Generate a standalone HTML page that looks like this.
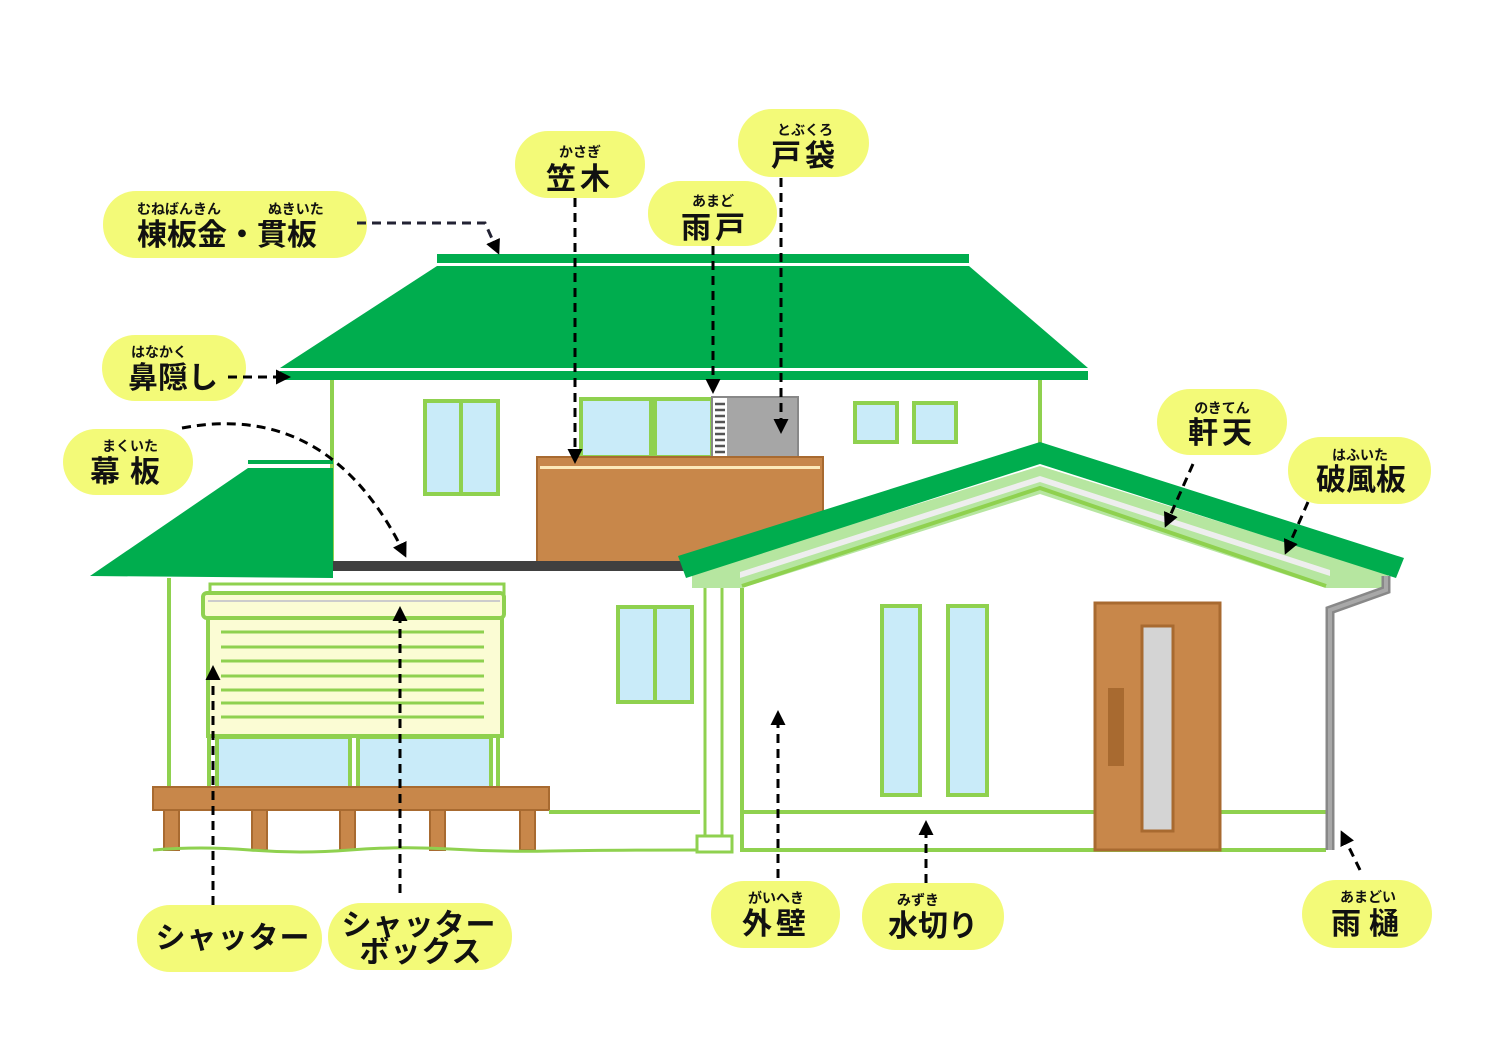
<!DOCTYPE html>
<html><head><meta charset="utf-8"><style>
html,body{margin:0;padding:0;background:#fff}
svg{display:block}
text{font-family:"Liberation Sans","Noto Sans CJK JP",sans-serif;font-weight:bold;fill:#111}
.m{font-size:30px}.r{font-size:14px}
</style></head><body>
<svg width="1497" height="1058" viewBox="0 0 1497 1058" xmlns="http://www.w3.org/2000/svg">
<defs><marker id="a" viewBox="0 0 10 10" refX="8" refY="5" markerWidth="5" markerHeight="5" orient="auto"><path d="M0,0L10,5L0,10z" fill="#000"/></marker></defs>
<rect x="332" y="380" width="708" height="190" fill="#fff"/>
<line x1="332" y1="380" x2="332" y2="566" stroke="#8fd14f" stroke-width="4"/>
<line x1="1040" y1="380" x2="1040" y2="446" stroke="#8fd14f" stroke-width="4"/>
<rect x="437" y="254" width="532" height="9" fill="#00ad4e"/>
<polygon points="437,266 969,266 1088,368 280,368" fill="#00ad4e"/>
<rect x="280" y="371" width="808" height="9" fill="#00ad4e"/>
<g fill="#c9ebf9" stroke="#8fd14f" stroke-width="4">
<rect x="425" y="401" width="36" height="93"/><rect x="461" y="401" width="37" height="93"/>
<rect x="581" y="399" width="70" height="58"/><rect x="655" y="399" width="57" height="58"/>
<rect x="855" y="403" width="42" height="39"/><rect x="914" y="403" width="42" height="39"/>
</g>
<rect x="712" y="397" width="86" height="60" fill="#a6a6a6" stroke="#888" stroke-width="2"/>
<rect x="713" y="398" width="14" height="59" fill="#fff"/>
<g stroke="#555" stroke-width="2.5"><line x1="715" y1="404" x2="725" y2="404"/><line x1="715" y1="410" x2="725" y2="410"/><line x1="715" y1="416" x2="725" y2="416"/><line x1="715" y1="422" x2="725" y2="422"/><line x1="715" y1="428" x2="725" y2="428"/><line x1="715" y1="434" x2="725" y2="434"/><line x1="715" y1="440" x2="725" y2="440"/><line x1="715" y1="446" x2="725" y2="446"/><line x1="715" y1="452" x2="725" y2="452"/></g>
<rect x="537" y="457" width="286" height="106" fill="#c8874a" stroke="#a86a30" stroke-width="2"/>
<rect x="540" y="466" width="280" height="3" fill="#fde9b8"/>
<rect x="333" y="561" width="360" height="10" fill="#404040"/>
<rect x="248" y="460" width="85" height="4" fill="#00ad4e"/>
<polygon points="90,576 248,468 333,468 333,578" fill="#00ad4e"/>
<line x1="169" y1="578" x2="169" y2="790" stroke="#8fd14f" stroke-width="4"/>
<rect x="210" y="584" width="294" height="9" fill="#fff" stroke="#8fd14f" stroke-width="3"/>
<rect x="208" y="618" width="294" height="118" fill="#fbfcd4" stroke="#8fd14f" stroke-width="4"/>
<rect x="203" y="593" width="301" height="25" rx="4" fill="#fbfcd4" stroke="#8fd14f" stroke-width="4"/>
<line x1="208" y1="601" x2="500" y2="601" stroke="#ccc" stroke-width="2"/>
<g stroke="#8fd14f" stroke-width="3"><line x1="221" y1="632" x2="484" y2="632"/><line x1="221" y1="647" x2="484" y2="647"/><line x1="221" y1="661" x2="484" y2="661"/><line x1="221" y1="676" x2="484" y2="676"/><line x1="221" y1="690" x2="484" y2="690"/><line x1="221" y1="703" x2="484" y2="703"/><line x1="221" y1="717" x2="484" y2="717"/></g>
<g fill="#c9ebf9" stroke="#8fd14f" stroke-width="4"><rect x="217" y="737" width="133" height="52"/><rect x="358" y="737" width="133" height="52"/></g>
<line x1="209" y1="736" x2="209" y2="790" stroke="#8fd14f" stroke-width="4"/><line x1="498" y1="736" x2="498" y2="790" stroke="#8fd14f" stroke-width="4"/>
<rect x="153" y="787" width="396" height="23" fill="#c8874a" stroke="#a86a30" stroke-width="2"/>
<g fill="#c8874a" stroke="#a86a30" stroke-width="2"><rect x="164" y="810" width="15" height="40"/><rect x="252" y="810" width="15" height="40"/><rect x="340" y="810" width="15" height="40"/><rect x="430" y="810" width="15" height="40"/><rect x="520" y="810" width="15" height="40"/></g>
<path d="M153,850 Q200,846 250,850 T350,850 T450,849 T550,851 T700,850" fill="none" stroke="#8fd14f" stroke-width="3"/>
<line x1="549" y1="812" x2="700" y2="812" stroke="#8fd14f" stroke-width="4"/>
<g fill="#c9ebf9" stroke="#8fd14f" stroke-width="4"><rect x="618" y="607" width="37" height="95"/><rect x="655" y="607" width="37" height="95"/></g>
<polygon points="742,586 1040,492 1326,586 1326,850 742,850" fill="#fff"/>
<polygon points="692,574 1040,466 1388,574 1388,588 1326,588 1040,494 742,588 692,588" fill="#b6e6a0"/>
<polyline points="742,586 1040,488 1326,586" fill="none" stroke="#8fd14f" stroke-width="4"/>
<polygon points="740,578 1040,482 1330,576 1330,570 1040,476 740,572" fill="#eee"/>
<polygon points="678,556 1040,442 1404,558 1396,578 1040,464 686,578" fill="#00ad4e"/>
<line x1="742" y1="588" x2="742" y2="850" stroke="#8fd14f" stroke-width="4"/>
<line x1="705" y1="588" x2="705" y2="836" stroke="#8fd14f" stroke-width="3"/>
<line x1="722" y1="588" x2="722" y2="836" stroke="#8fd14f" stroke-width="3"/>
<rect x="697" y="836" width="35" height="16" fill="#fff" stroke="#8fd14f" stroke-width="3"/>
<line x1="742" y1="812" x2="1326" y2="812" stroke="#8fd14f" stroke-width="4"/>
<line x1="740" y1="850" x2="1326" y2="850" stroke="#8fd14f" stroke-width="4"/>
<g fill="#c9ebf9" stroke="#8fd14f" stroke-width="4"><rect x="882" y="606" width="38" height="189"/><rect x="948" y="606" width="39" height="189"/></g>
<rect x="1095" y="603" width="125" height="247" fill="#c8874a" stroke="#a86a30" stroke-width="3"/>
<rect x="1142" y="626" width="31" height="205" fill="#d4d4d4" stroke="#a86a30" stroke-width="3"/>
<rect x="1108" y="688" width="16" height="78" fill="#a86a30"/>
<path d="M1386,576 L1386,590 L1330,610 L1330,850" fill="none" stroke="#888" stroke-width="9"/>
<path d="M1386,576 L1386,590 L1330,610 L1330,850" fill="none" stroke="#a8a8a8" stroke-width="4"/>
<g fill="#f3fa78">
<rect x="103" y="191" width="264" height="67" rx="33"/>
<rect x="515" y="131" width="130" height="67" rx="33"/>
<rect x="738" y="109" width="131" height="68" rx="34"/>
<rect x="648" y="181" width="129" height="65" rx="32"/>
<rect x="102" y="335" width="144" height="66" rx="33"/>
<rect x="63" y="429" width="130" height="66" rx="33"/>
<rect x="1157" y="389" width="130" height="66" rx="33"/>
<rect x="1288" y="437" width="143" height="67" rx="33"/>
<rect x="1302" y="880" width="130" height="68" rx="34"/>
<rect x="137" y="905" width="185" height="67" rx="33"/>
<rect x="328" y="903" width="184" height="67" rx="33"/>
<rect x="711" y="881" width="129" height="67" rx="33"/>
<rect x="862" y="883" width="142" height="67" rx="33"/>
</g>
<g fill="none" stroke="#000" stroke-width="3" stroke-dasharray="9,6" marker-end="url(#a)">
<path d="M357,223 L485,223 L498,252" stroke="#223"/>
<path d="M575,198 L575,461"/>
<path d="M781,178 L781,431"/>
<path d="M713,246 L713,391"/>
<path d="M228,377 L288,377"/>
<path d="M182,428 Q330,400 405,555"/>
<path d="M1193,464 L1166,525"/>
<path d="M1308,502 L1286,552"/>
<path d="M1360,870 L1342,833"/>
<path d="M213,905 L213,668"/>
<path d="M400,893 L400,609"/>
<path d="M778,878 L778,713"/>
<path d="M926,883 L926,823"/>
</g>
<text class="r" x="137" y="214">むねばんきん</text><text class="r" x="268" y="214">ぬきいた</text>
<text class="m" x="137" y="245">棟板金・貫板</text>
<text class="r" x="580" y="157" text-anchor="middle">かさぎ</text><text class="m" x="580" y="189" text-anchor="middle" letter-spacing="4">笠木</text>
<text class="r" x="805" y="135" text-anchor="middle">とぶくろ</text><text class="m" x="805" y="166" text-anchor="middle" letter-spacing="4">戸袋</text>
<text class="r" x="713" y="206" text-anchor="middle">あまど</text><text class="m" x="715" y="238" text-anchor="middle" letter-spacing="4">雨戸</text>
<text class="r" x="131" y="357">はなかく</text><text class="m" x="128" y="388">鼻隠し</text>
<text class="r" x="130" y="451" text-anchor="middle">まくいた</text><text class="m" x="130" y="482" text-anchor="middle" letter-spacing="10">幕板</text>
<text class="r" x="1222" y="413" text-anchor="middle">のきてん</text><text class="m" x="1222" y="443" text-anchor="middle" letter-spacing="4">軒天</text>
<text class="r" x="1360" y="460" text-anchor="middle">はふいた</text><text class="m" x="1361" y="490" text-anchor="middle">破風板</text>
<text class="r" x="1368" y="902" text-anchor="middle">あまどい</text><text class="m" x="1369" y="934" text-anchor="middle" letter-spacing="8">雨樋</text>
<text class="m" x="233" y="948" text-anchor="middle" font-size="26" letter-spacing="1">シャッター</text>
<text class="m" x="419" y="935" text-anchor="middle" font-size="26" letter-spacing="1">シャッター</text>
<text class="m" x="421" y="962" text-anchor="middle" font-size="26" letter-spacing="1">ボックス</text>
<text class="r" x="776" y="903" text-anchor="middle">がいへき</text><text class="m" x="776" y="934" text-anchor="middle" letter-spacing="4">外壁</text>
<text class="r" x="918" y="905" text-anchor="middle">みずき</text><text class="m" x="933" y="936" text-anchor="middle">水切り</text>
</svg>
</body></html>
